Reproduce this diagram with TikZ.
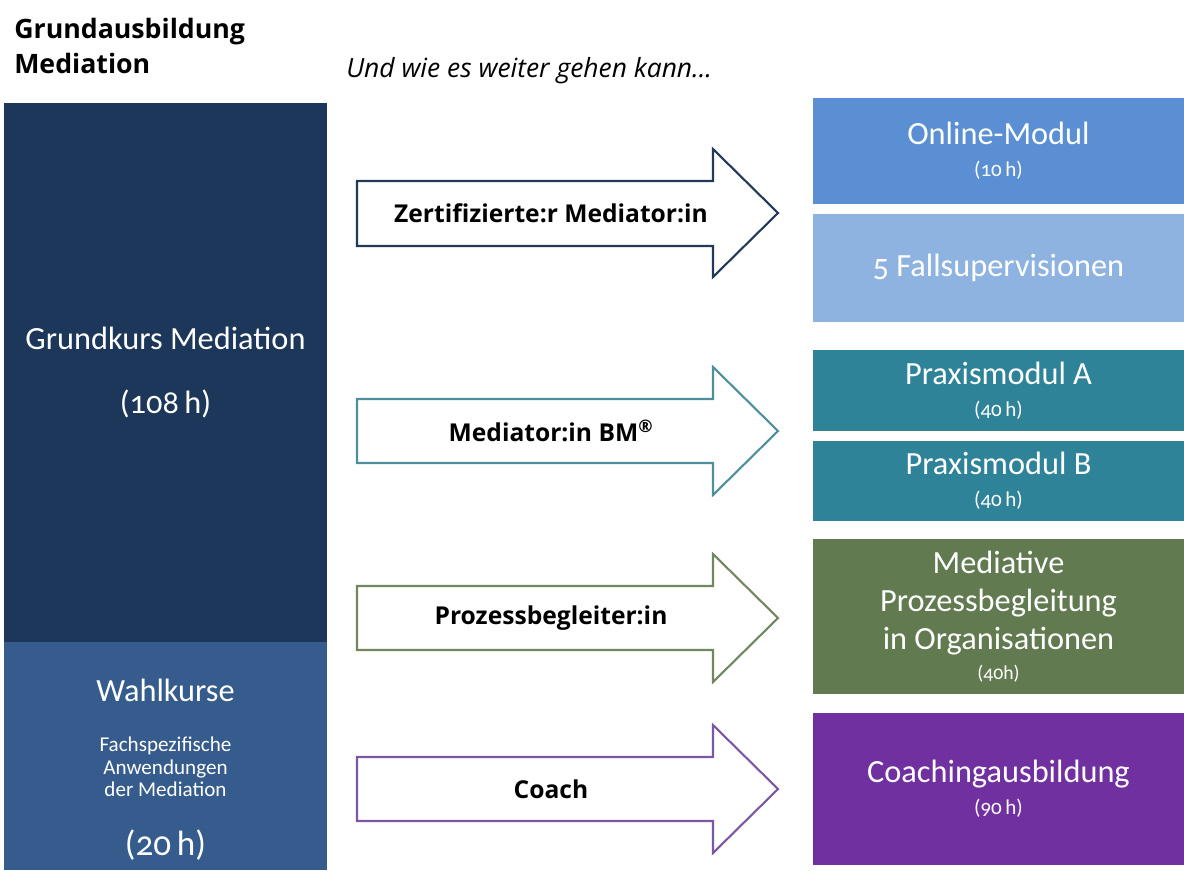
\documentclass[tikz,border=0pt]{standalone}
\usepackage{fontspec}
\setmainfont{Open Sans}
\newfontfamily\boxfont[Numbers=OldStyle]{Carlito}
\usepackage{tikz}

\definecolor{grundblau}{HTML}{1C3759}
\definecolor{wahlblau}{HTML}{355C8C}
\definecolor{onlineblau}{HTML}{5B8FD3}
\definecolor{fallblau}{HTML}{8FB3E0}
\definecolor{praxisteal}{HTML}{2F8399}
\definecolor{prozessgruen}{HTML}{627A50}
\definecolor{coachlila}{HTML}{7030A0}
\definecolor{pfeilnavy}{HTML}{22395A}
\definecolor{pfeilteal}{HTML}{4F8F9B}
\definecolor{pfeilgruen}{HTML}{72875F}
\definecolor{pfeillila}{HTML}{7A58A6}

\begin{document}
\begin{tikzpicture}[
  x=0.025cm, y=-0.025cm,
  box/.style={rectangle,inner sep=0pt,align=center,text=white,
    font=\boxfont\fontsize{23}{27}\selectfont},
  lbox/.style={box,minimum width=80.75mm},
  rbox/.style={box,minimum width=92.75mm},
  sub/.style={font=\boxfont\fontsize{15}{16}\selectfont,text=white,align=center},
  bigarrow/.style={line width=1.5pt,fill=white,line join=miter},
  alab/.style={font=\bfseries\fontsize{17.5}{20}\selectfont,inner sep=0pt}
]
  \useasboundingbox (0,0) rectangle (1184,870);

  % headings
  \node[anchor=north west,inner sep=0pt,align=left,
    font=\bfseries\fontsize{19}{25}\selectfont] (titel) at (14,18)
    {Grundausbildung\\Mediation};
  \node[anchor=base west,inner sep=0pt,
    font=\itshape\fontsize{18.8}{22}\selectfont] (ausblick) at (346,77)
    {Und wie es weiter gehen kann...};

  % left column
  \node[lbox,fill=grundblau,minimum height=134.75mm] (grundkurs) at (165.5,372.5)
    {Grundkurs Mediation\\[19pt](108\,h)};
  \node[lbox,fill=wahlblau,minimum height=57mm] (wahl) at (165.5,756) {};
  \node[box] (wahltitel) at (165.5,690) {Wahlkurse};
  \node[sub] (wahltext) at (165.5,767) {Fachspezifische\\Anwendungen\\der Mediation};
  \node[box,font=\boxfont\fontsize{25}{27}\selectfont] (wahlstd) at (165.5,845) {(20\,h)};

  % right column
  \node[rbox,fill=onlineblau,minimum height=26.5mm] (online) at (998.5,151)
    {Online-Modul\\[-4pt]{\fontsize{15}{16}\selectfont(10\,h)}};
  \node[rbox,fill=fallblau,minimum height=27mm] (fall) at (998.5,268)
    {5 Fallsupervisionen};
  \node[rbox,fill=praxisteal,minimum height=20.25mm] (praxa) at (998.5,390.5)
    {Praxismodul A\\[-4pt]{\fontsize{15}{16}\selectfont(40\,h)}};
  \node[rbox,fill=praxisteal,minimum height=20mm] (praxb) at (998.5,481)
    {Praxismodul B\\[-4pt]{\fontsize{15}{16}\selectfont(40\,h)}};
  \node[rbox,fill=prozessgruen,minimum height=38.75mm] (prozess) at (998.5,616.5)
    {Mediative\\Prozessbegleitung\\in Organisationen\\[-6pt]{\fontsize{14}{15}\selectfont(40h)}};
  \node[rbox,fill=coachlila,minimum height=38mm] (coaching) at (998.5,789)
    {Coachingausbildung\\[-4pt]{\fontsize{15}{16}\selectfont(90\,h)}};

  % block arrows
  \draw[bigarrow,draw=pfeilnavy] (357,181) -- (713,181) -- (713,149) -- (778,213)
    -- (713,277) -- (713,246) -- (357,246) -- cycle;
  \node[alab] (zert) at (551,213) {Zertifizierte:r Mediator:in};

  \draw[bigarrow,draw=pfeilteal] (357,399) -- (713,399) -- (713,367) -- (778,431)
    -- (713,495) -- (713,463) -- (357,463) -- cycle;
  \node[alab] (bm) at (551,431) {Mediator:in BM\textsuperscript{\textregistered}};

  \draw[bigarrow,draw=pfeilgruen] (357,586) -- (713,586) -- (713,554) -- (778,618)
    -- (713,682) -- (713,650) -- (357,650) -- cycle;
  \node[alab] (begleiter) at (551,618) {Prozessbegleiter:in};

  \draw[bigarrow,draw=pfeillila] (357,757) -- (713,757) -- (713,725) -- (778,789)
    -- (713,853) -- (713,821) -- (357,821) -- cycle;
  \node[alab] (coach) at (551,789) {Coach};
\end{tikzpicture}
\end{document}
